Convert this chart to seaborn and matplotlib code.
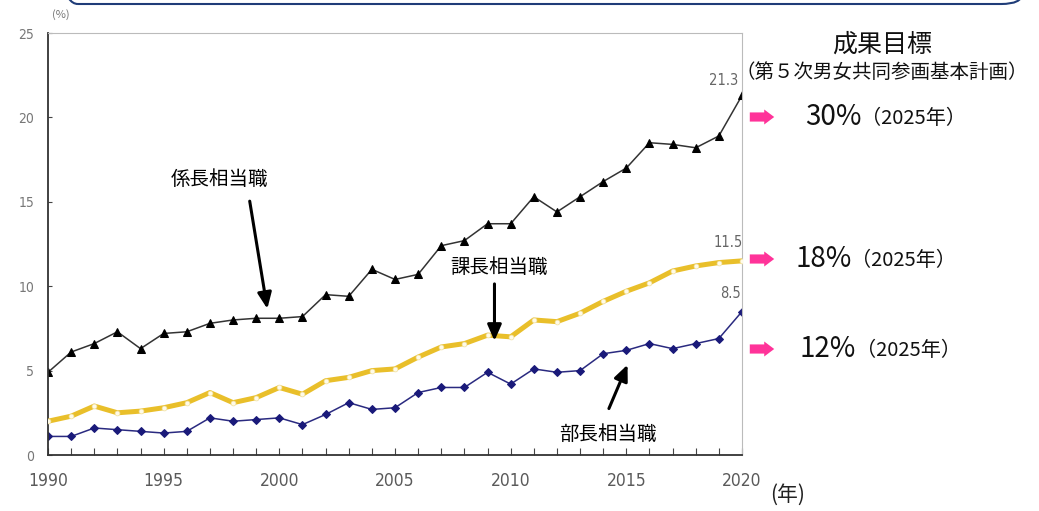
import matplotlib
matplotlib.use("Agg")
import matplotlib.pyplot as plt
import seaborn as sns
import pandas as pd
from matplotlib.patches import FancyBboxPatch

years = list(range(1990, 2021))
kakaricho = [4.9, 6.1, 6.6, 7.3, 6.3, 7.2, 7.3, 7.8, 8.0, 8.1, 8.1, 8.2, 9.5, 9.4, 11.0, 10.4,
             10.7, 12.4, 12.7, 13.7, 13.7, 15.3, 14.4, 15.3, 16.2, 17.0, 18.5, 18.4, 18.2, 18.9, 21.3]
kacho = [2.0, 2.3, 2.9, 2.5, 2.6, 2.8, 3.1, 3.7, 3.1, 3.4, 4.0, 3.6, 4.4, 4.6, 5.0, 5.1,
         5.8, 6.4, 6.6, 7.1, 7.0, 8.0, 7.9, 8.4, 9.1, 9.7, 10.2, 10.9, 11.2, 11.4, 11.5]
bucho = [1.1, 1.1, 1.6, 1.5, 1.4, 1.3, 1.4, 2.2, 2.0, 2.1, 2.2, 1.8, 2.4, 3.1, 2.7, 2.8,
         3.7, 4.0, 4.0, 4.9, 4.2, 5.1, 4.9, 5.0, 6.0, 6.2, 6.6, 6.3, 6.6, 6.9, 8.5]
yticks = [0, 5, 10, 15, 20, 25]
xticks = [1990, 1995, 2000, 2005, 2010, 2015, 2020]
targets = ["30%", "18%", "12%"]

sns.set_theme(style="white")
plt.rcParams['font.family'] = ['Noto Sans CJK JP', 'DejaVu Sans']

W, H = 1039, 511
fig = plt.figure(figsize=(W / 100, H / 100), dpi=100)
ax = fig.add_axes([48 / W, 1 - 455 / H, (742 - 48) / W, (455 - 33) / H])

df = pd.DataFrame({"year": years, "kakaricho": kakaricho, "kacho": kacho, "bucho": bucho})

sns.lineplot(data=df, x="year", y="kakaricho", ax=ax, color="#333333", lw=1.1,
             marker="^", markersize=5.5, markerfacecolor="black", markeredgecolor="black")
sns.lineplot(data=df, x="year", y="kacho", ax=ax, color="#e9bf2a", lw=3.6, zorder=3)
sns.lineplot(data=df, x="year", y="kacho", ax=ax, color="#f6d25a", lw=0, zorder=4,
             marker="o", markersize=3.5, markerfacecolor="#fffbe8", markeredgecolor="#f0e0a0",
             markeredgewidth=0.5)
sns.lineplot(data=df, x="year", y="bucho", ax=ax, color="#2a2a80", lw=1.1,
             marker="D", markersize=4, markerfacecolor="#1a1a7a", markeredgecolor="#1a1a7a")

narrow = dict(family=["DejaVu Sans"], fontstretch="condensed")

ax.set_xlim(1990, 2020)
ax.set_ylim(0, 25)
ax.set_xticks(years, minor=True)
ax.set_xticks(xticks)
ax.set_yticks(yticks)
ax.set_xticklabels([str(x) for x in xticks], fontsize=12.5, color="#5a5a5a", **narrow)
ax.set_yticklabels([str(y) for y in yticks], fontsize=10, color="#777777", **narrow)
ax.tick_params(axis="x", which="both", direction="in", length=5, width=0.8, color="#444444",
               pad=12, bottom=True)
ax.tick_params(axis="y", which="both", direction="in", length=3, width=0.8, color="#444444",
               pad=10, left=True)
ax.set_xlabel("")
ax.set_ylabel("")
for s in ["left", "bottom"]:
    ax.spines[s].set_color("#333333")
    ax.spines[s].set_linewidth(1.3)
for s in ["top", "right"]:
    ax.spines[s].set_color("#bbbbbb")
    ax.spines[s].set_linewidth(0.8)

# value labels
lab = dict(fontsize=10.5, color="#666666", ha="center", **narrow)
ax.text(2019.2, 21.9, f"{kakaricho[-1]:.1f}", **lab)
ax.text(2019.4, 12.3, f"{kacho[-1]:.1f}", **lab)
ax.text(2019.5, 9.3, f"{bucho[-1]:.1f}", **lab)

# series annotations
arrow = dict(arrowstyle="-|>,head_width=0.35,head_length=0.8", lw=2.2, color="black")
ax.text(1997.4, 16.3, "係長相当職", fontsize=14, ha="center", va="center", color="black")
ax.annotate("", xy=(1999.5, 8.5), xytext=(1998.7, 15.2), arrowprops=arrow)
ax.text(2009.5, 11.1, "課長相当職", fontsize=14, ha="center", va="center", color="black")
ax.annotate("", xy=(2009.3, 6.6), xytext=(2009.3, 10.3), arrowprops=arrow)
ax.text(2014.2, 1.2, "部長相当職", fontsize=14, ha="center", va="center", color="black")
ax.annotate("", xy=(2015.1, 5.5), xytext=(2014.2, 2.6), arrowprops=arrow)


def fx(px):
    return px / W


def fy(py):
    return 1 - py / H


fig.text(fx(52), fy(15), "(%)", fontsize=8, color="#777777", va="center")
fig.text(fx(770), fy(495), "(年)", fontsize=15, color="#222222", va="center")
fig.text(fx(882), fy(45), "成果目標", fontsize=18, ha="center", va="center", color="#111111")
fig.text(fx(882), fy(73), "（第５次男女共同参画基本計画）", fontsize=14, ha="center", va="center",
         color="#111111")

rows = [(117, 805), (259, 795), (349, 800)]
for (py, tx), t in zip(rows, targets):
    ax.annotate("", xy=(777, H - py), xytext=(747, H - py), xycoords="figure pixels",
                textcoords="figure pixels",
                arrowprops=dict(arrowstyle="simple,head_width=0.9,head_length=0.6,tail_width=0.55",
                                color="#ff3399", lw=0), annotation_clip=False)
    fig.text(fx(tx), fy(py), t, fontsize=20, va="center", color="#111111")
    fig.text(fx(tx + 56), fy(py + 1), "（2025年）", fontsize=14.5, va="center", color="#111111")

# slide frame remnant at top
frame = FancyBboxPatch((57 / W, fy(4)), (1022 - 57) / W, 0.2, transform=fig.transFigure,
                       boxstyle="round,pad=0,rounding_size=0.02", fc="none", ec="#1f3c78", lw=1.5,
                       clip_on=False)
fig.patches.append(frame)

fig.savefig("out.png", dpi=100)
